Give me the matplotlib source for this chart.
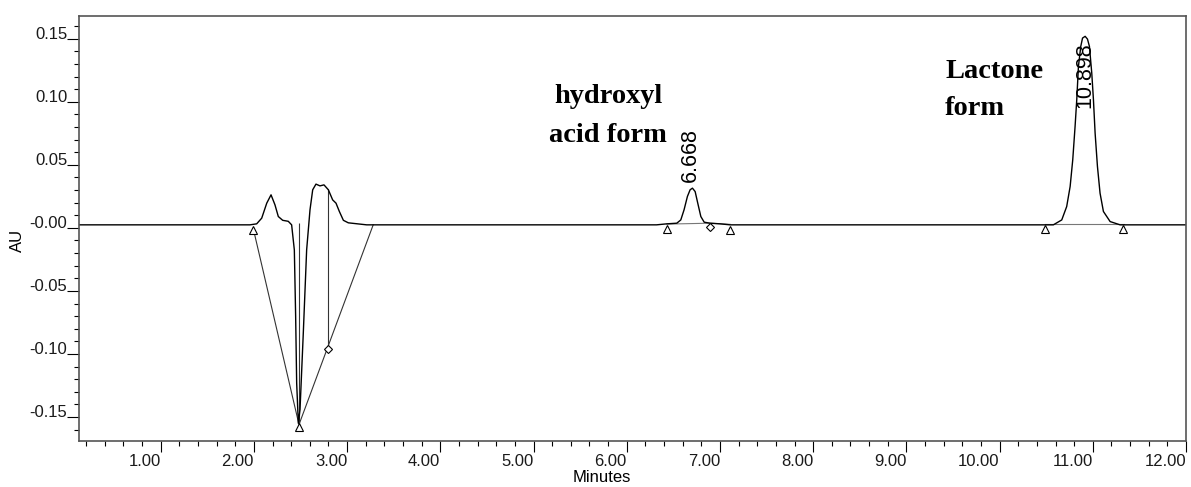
import matplotlib.pyplot as plt
from matplotlib.ticker import MultipleLocator, FixedLocator

# chromatogram trace (minutes, AU)
time_min = [0.12, 1.958, 2.03, 2.084, 2.138, 2.184, 2.226, 2.262, 2.309, 2.369, 2.405,
            2.434, 2.448, 2.459, 2.477, 2.495, 2.530, 2.566, 2.602, 2.631, 2.666, 2.709,
            2.752, 2.799, 2.845, 2.881, 2.917, 2.960, 3.013, 3.210,
            6.32, 6.43, 6.537, 6.58, 6.615, 6.651, 6.680, 6.705, 6.734, 6.762, 6.795,
            6.831, 6.895, 7.002, 7.11,
            10.577, 10.667, 10.72, 10.757, 10.785, 10.810, 10.828, 10.846, 10.871, 10.89,
            10.918, 10.943, 10.964, 10.989, 11.007, 11.025, 11.050, 11.078, 11.114, 11.186,
            11.293, 12.0]
au = [0.0024, 0.0024, 0.0032, 0.0077, 0.0196, 0.0262, 0.0183, 0.0090, 0.0060, 0.0052, 0.0024,
      -0.0175, -0.070, -0.123, -0.155, -0.144, -0.0836, -0.0175, 0.0143, 0.0302, 0.0347, 0.0333,
      0.0341, 0.0302, 0.0222, 0.0196, 0.0130, 0.0060, 0.0040, 0.0024,
      0.0024, 0.0032, 0.0037, 0.0063, 0.0143, 0.0249, 0.0302, 0.0315, 0.0288, 0.0196, 0.0090,
      0.0045, 0.0037, 0.0032, 0.0024,
      0.0024, 0.0063, 0.0169, 0.0328, 0.0540, 0.0804, 0.1016, 0.1280, 0.1439, 0.1505,
      0.1519, 0.1497, 0.1439, 0.1228, 0.1016, 0.0751, 0.0487, 0.0275, 0.0130, 0.0050,
      0.0024, 0.0024]

# integration baselines and drop lines
base1_t = [1.994, 2.484, 3.28]
base1_au = [-0.0008, -0.156, 0.0024]
drop_t = [2.488, 2.792]
drop_top = [0.004, 0.031]
drop_bot = [-0.156, -0.096]
base2_t = [6.43, 6.895, 7.11]
base2_au = [0.0030, 0.0037, 0.0028]
base3_t = [10.49, 11.33]
base3_au = [0.0030, 0.0030]

# peak start/end markers
tri_t = [1.994, 2.484, 6.43, 7.11, 10.488, 11.329]
tri_au = [-0.0015, -0.158, -0.0005, -0.0016, -0.001, -0.001]
dia_t = [2.792, 6.895]
dia_au = [-0.096, 0.0005]

# retention time labels
rt_labels = ['6.668', '10.898']
rt_pos = [6.68, 10.92]
rt_au = [0.0365, 0.095]

x_ticks = [1, 2, 3, 4, 5, 6, 7, 8, 9, 10, 11, 12]
x_labels = ['1.00', '2.00', '3.00', '4.00', '5.00', '6.00', '7.00', '8.00', '9.00', '10.00', '11.00', '12.00']
y_ticks = [-0.15, -0.10, -0.05, 0.0, 0.05, 0.10, 0.15]
y_labels = ['-0.15', '-0.10', '-0.05', '-0.00', '0.05', '0.10', '0.15']

plt.rcParams['font.family'] = 'Liberation Sans'
fig = plt.figure(figsize=(11.91, 4.87), dpi=100)
ax = fig.add_axes([0.0663, 0.0945, 0.9295, 0.8726])

ax.plot(base1_t, base1_au, color='#333333', lw=0.8)
ax.vlines(drop_t, drop_bot, drop_top, color='#333333', lw=0.8)
ax.plot(base2_t, base2_au, color='#777777', lw=0.8)
ax.plot(base3_t, base3_au, color='#777777', lw=0.8)
ax.plot(time_min, au, color='black', lw=1.0)
ax.plot(tri_t, tri_au, ls='none', marker='^', ms=6, mfc='white', mec='black', mew=0.8)
ax.plot(dia_t, dia_au, ls='none', marker='D', ms=4.5, mfc='white', mec='black', mew=0.8)

for lab, t, v in zip(rt_labels, rt_pos, rt_au):
    ax.text(t, v, lab, rotation=90, ha='center', va='bottom', fontsize=15.5)

ann = dict(fontfamily='Liberation Serif', fontweight='bold', fontsize=20.5)
ax.text(5.80, 0.0992, 'hydroxyl', ha='center', va='baseline', **ann)
ax.text(5.80, 0.0683, 'acid form', ha='center', va='baseline', **ann)
ax.text(9.415, 0.119, 'Lactone', ha='left', va='baseline', **ann)
ax.text(9.415, 0.0897, 'form', ha='left', va='baseline', **ann)

ax.set_xlim(0.1234, 12.0)
ax.set_ylim(-0.169, 0.168)
ax.xaxis.set_major_locator(FixedLocator(x_ticks))
ax.set_xticklabels(x_labels)
ax.xaxis.set_minor_locator(MultipleLocator(0.2))
ax.yaxis.set_major_locator(FixedLocator(y_ticks))
ax.set_yticklabels(y_labels)
ax.yaxis.set_minor_locator(MultipleLocator(0.01))

ax.tick_params(which='major', axis='x', length=8, width=0.8, pad=1.5, labelsize=12, labelcolor='#1a1a1a')
ax.tick_params(which='major', axis='y', length=8.5, width=0.8, pad=0, labelsize=12, labelcolor='#1a1a1a')
ax.tick_params(which='minor', length=3.6, width=0.8)
for lab in ax.get_xticklabels():
    lab.set_ha('right')
for lab in ax.get_yticklabels():
    lab.set_va('baseline')

for s in ax.spines.values():
    s.set_color('#555555')
    s.set_linewidth(1.2)

ax.set_xlabel('Minutes', fontsize=12)
ax.xaxis.label.set_va('center')
ax.xaxis.set_label_coords(0.4725, -0.087)
ax.set_ylabel('AU', fontsize=12)
ax.yaxis.label.set_va('center')
ax.yaxis.label.set_rotation_mode('default')
ax.yaxis.set_label_coords(-0.0551, 0.473)

fig.savefig('out.png', dpi=100)
